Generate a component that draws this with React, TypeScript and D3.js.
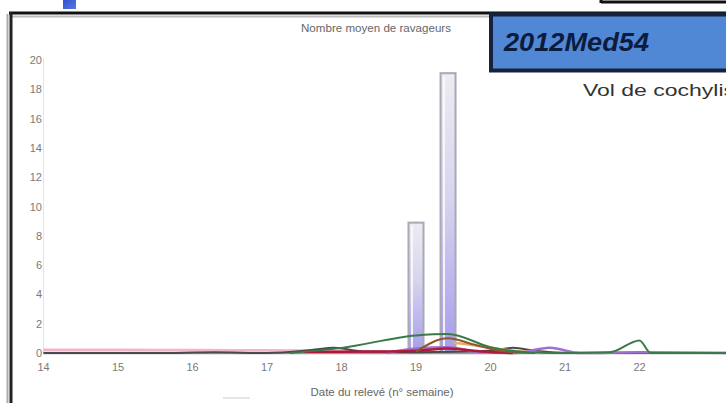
import React from "react";
import * as d3 from "d3";

const W = 726;
const H = 403;

const yTicks = [0, 2, 4, 6, 8, 10, 12, 14, 16, 18, 20];
const xTicks = [14, 15, 16, 17, 18, 19, 20, 21, 22];

const barWeeks = [19, 19.43];
const barValues = [8.9, 19.1];

const pinkWeeks = [14, 15, 16, 17, 18, 18.6];
const pinkValues = [0.22, 0.22, 0.2, 0.18, 0.15, 0.1];

const darkWeeks = [14, 15.5, 16.3, 17, 17.6, 17.9, 18.3, 19, 20, 20.3, 20.6, 21, 22, 23.2];
const darkValues = [0, 0, 0.05, 0, 0.2, 0.35, 0.1, 0.05, 0.15, 0.35, 0.15, 0, 0, 0];

const greenWeeks = [17.3, 18, 19, 19.43, 20, 20.5, 21, 21.6, 22, 22.15, 23.2];
const greenValues = [0, 0.35, 1.2, 1.3, 0.4, 0.05, 0, 0.05, 0.85, 0, 0];

const redWeeks = [17.5, 18, 18.6, 19, 19.43, 19.9, 20.3];
const redValues = [0.08, 0.08, 0.1, 0.15, 0.3, 0.1, 0];

const brownWeeks = [19, 19.43, 19.8, 20.2, 20.6];
const brownValues = [0.1, 1.0, 0.55, 0.1, 0];

const tanWeeks = [19.5, 19.9, 20.3, 20.7];
const tanValues = [0.7, 0.45, 0.15, 0];

const purpleWeeks = [18.6, 19, 19.43, 19.8, 20.3, 20.8, 21.2, 22, 23.2];
const purpleValues = [0, 0.3, 0.4, 0.1, 0, 0.35, 0, 0.05, 0];

export default function App() {
  const x = d3.scaleLinear().domain([14, 22]).range([43.5, 639.5]);
  const y = d3.scaleLinear().domain([0, 20]).range([353, 60]);

  const mk = (ws: number[], vs: number[]) =>
    d3
      .line<number>()
      .x((_, i) => x(ws[i]))
      .y((v) => y(v))
      .curve(d3.curveMonotoneX)(vs) || "";

  const series = [
    { w: pinkWeeks, v: pinkValues, c: "#f2b4c8", sw: 2.5 },
    { w: darkWeeks, v: darkValues, c: "#4a4a4a", sw: 2 },
    { w: purpleWeeks, v: purpleValues, c: "#a070d0", sw: 2.5 },
    { w: redWeeks, v: redValues, c: "#b0183a", sw: 2.5 },
    { w: tanWeeks, v: tanValues, c: "#e0b070", sw: 2.5 },
    { w: brownWeeks, v: brownValues, c: "#8a5a2a", sw: 2 },
    { w: greenWeeks, v: greenValues, c: "#3a7a48", sw: 2 },
  ];

  const barW = 15;

  return (
    <svg width={W} height={H} style={{ position: "absolute", left: 0, top: 0, background: "#fff" }}>
      <defs>
        <linearGradient id="barg" x1="0" y1="0" x2="0" y2="1">
          <stop offset="0" stopColor="#ececf2" />
          <stop offset="0.45" stopColor="#d6d4ee" />
          <stop offset="1" stopColor="#a69cec" />
        </linearGradient>
        <linearGradient id="blueg" x1="0" y1="0" x2="1" y2="1">
          <stop offset="0" stopColor="#2c4fd0" />
          <stop offset="1" stopColor="#5a78e0" />
        </linearGradient>
      </defs>

      {/* top-left blue marker */}
      <rect x={63} y={-2} width={13} height={11} fill="url(#blueg)" />

      {/* top-right box edge */}
      <line x1={601} y1={2} x2={W} y2={2} stroke="#111" strokeWidth={3} />
      <line x1={601} y1={0} x2={601} y2={3} stroke="#111" strokeWidth={3} />

      {/* frame */}
      <line x1={12} y1={16.5} x2={W} y2={16.5} stroke="#bbb" strokeWidth={2} />
      <line x1={7.5} y1={14} x2={7.5} y2={H} stroke="#aaa" strokeWidth={2} />
      <line x1={9} y1={13} x2={W} y2={13} stroke="#111" strokeWidth={3} />
      <line x1={11} y1={12} x2={11} y2={H} stroke="#222" strokeWidth={3} />

      {/* title */}
      <text x={376} y={32} textAnchor="middle" fontFamily="Arial, Liberation Sans, sans-serif" fontSize={10.5} fill="#666" textLength={150} lengthAdjust="spacingAndGlyphs">
        Nombre moyen de ravageurs
      </text>

      {/* y axis */}
      <line x1={43.5} y1={58} x2={43.5} y2={353} stroke="#e4e4e4" strokeWidth={1} />
      {yTicks.map((t) => (
        <text key={t} x={42} y={y(t) + 4} textAnchor="end" fontFamily="Arial, Liberation Sans, sans-serif" fontSize={11} fill="#7a7a7a">
          {t}
        </text>
      ))}

      {/* bars */}
      {barWeeks.map((wk, i) => (
        <g key={wk}>
          <rect x={x(wk) - barW / 2} y={y(barValues[i])} width={barW} height={y(0) - y(barValues[i])} fill="url(#barg)" stroke="#a8a8b6" strokeWidth={2} />
          <line x1={x(wk) - barW / 2 + 3.5} y1={y(barValues[i]) + 3} x2={x(wk) - barW / 2 + 3.5} y2={y(0) - 2} stroke="#fafafa" strokeWidth={2} opacity={0.9} />
        </g>
      ))}

      {/* baseline */}
      <line x1={43.5} y1={y(0)} x2={W} y2={y(0)} stroke="#9a98b0" strokeWidth={2.5} />

      {/* lines */}
      {series.map((s, i) => (
        <path key={i} d={mk(s.w, s.v)} fill="none" stroke={s.c} strokeWidth={s.sw} />
      ))}

      {/* x axis labels */}
      {xTicks.map((t) => (
        <text key={t} x={x(t)} y={371} textAnchor="middle" fontFamily="Arial, Liberation Sans, sans-serif" fontSize={11} fill="#7a7a7a">
          {t}
        </text>
      ))}
      <text x={382} y={396} textAnchor="middle" fontFamily="Arial, Liberation Sans, sans-serif" fontSize={11} fill="#666" textLength={143} lengthAdjust="spacingAndGlyphs">
        Date du relevé (n° semaine)
      </text>
      <line x1={223} y1={398} x2={250} y2={398} stroke="#ddd" strokeWidth={1.5} />

      {/* label box */}
      <rect x={491} y={14.5} width={260} height={56} fill="#5088d6" stroke="#15233f" strokeWidth={4} />
      <text x={504} y={51} fontFamily="Arial, Liberation Sans, sans-serif" fontWeight="bold" fontStyle="italic" fontSize={25} fill="#0c1b3e" textLength={145} lengthAdjust="spacingAndGlyphs">
        2012Med54
      </text>

      <text x={583} y={96} fontFamily="Arial, Liberation Sans, sans-serif" fontSize={17} fill="#333" textLength={152} lengthAdjust="spacingAndGlyphs">
        Vol de cochylis
      </text>
    </svg>
  );
}
